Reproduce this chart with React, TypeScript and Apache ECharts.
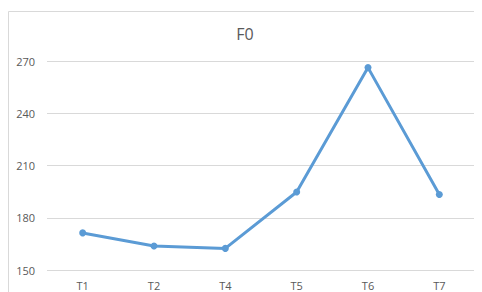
import React, { useEffect, useRef } from "react";
import * as echarts from "echarts";

const categories = ["T1", "T2", "T4", "T5", "T6", "T7"];
const f0Values = [171.3, 163.8, 162.4, 194.8, 266.2, 193.4];
const chartTitle = "F0";

export default function App() {
  const ref = useRef<HTMLDivElement>(null);
  useEffect(() => {
    if (!ref.current) return;
    const chart = echarts.init(ref.current, undefined, { renderer: "svg" });
    chart.setOption({
      animation: false,
      textStyle: { fontFamily: "Open Sans, sans-serif" },
      graphic: [
        {
          type: "rect",
          shape: { x: 0.5, y: 3.5, width: 500, height: 400 },
          style: { fill: "none", stroke: "#D9D9D9", lineWidth: 1 },
          silent: true,
        },
      ],
      title: {
        text: chartTitle,
        left: "center",
        top: 13,
        textStyle: { fontSize: 16, fontWeight: "normal", color: "#595959" },
      },
      grid: { left: 39, right: 7, top: 53, bottom: 22, containLabel: false },
      xAxis: {
        type: "category",
        data: categories,
        boundaryGap: true,
        axisLine: { show: false },
        axisTick: { show: false },
        axisLabel: { color: "#595959", fontSize: 11, margin: 10 },
      },
      yAxis: {
        type: "value",
        min: 150,
        max: 270,
        interval: 30,
        axisLine: { show: false },
        axisTick: { show: false },
        axisLabel: { color: "#595959", fontSize: 11, margin: 12 },
        splitLine: { lineStyle: { color: "#D9D9D9", width: 1 } },
      },
      series: [
        {
          type: "line",
          data: f0Values,
          symbol: "circle",
          symbolSize: 7,
          lineStyle: { color: "#5B9BD5", width: 3 },
          itemStyle: { color: "#5B9BD5" },
        },
      ],
    });
    return () => chart.dispose();
  }, []);
  return <div ref={ref} style={{ width: 474, height: 284 }} />;
}
